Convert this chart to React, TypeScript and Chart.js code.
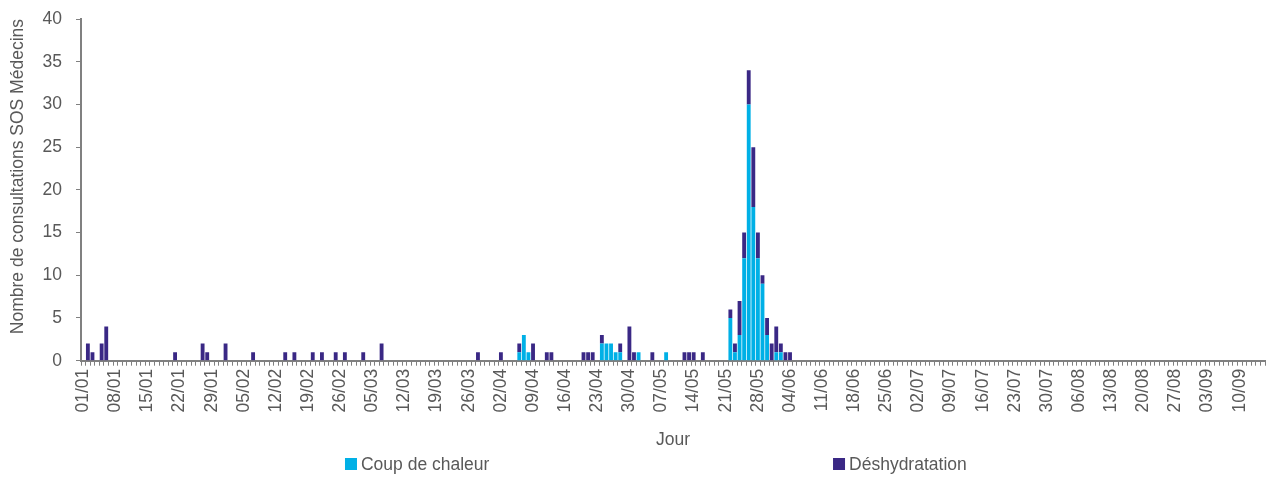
import React, { useEffect, useRef } from 'react';
import { Chart, registerables } from 'chart.js';

Chart.register(...registerables);

// ---- categories: one bar per day, 01/01 to 15/09 ----
const MONTH_CODES = ['01', '02', '03', '04', '05', '06', '07', '08', '09'];
const MONTH_LENGTHS = [31, 28, 31, 30, 31, 30, 31, 31, 15];
const categories: string[] = [];
MONTH_CODES.forEach((m, k) => {
  for (let d = 1; d <= MONTH_LENGTHS[k]; d++) categories.push(String(d).padStart(2, '0') + '/' + m);
});
const LABEL_EVERY = 7; // a label every week: 01/01, 08/01, ... 10/09

// ---- series (one line per month) ----
const coupDeChaleur = [
  0,0,0,0,0,0,0,0,0,0, 0,0,0,0,0,0,0,0,0,0, 0,0,0,0,0,0,0,0,0,0, 0,
  0,0,0,0,0,0,0,0,0,0, 0,0,0,0,0,0,0,0,0,0, 0,0,0,0,0,0,0,0,
  0,0,0,0,0,0,0,0,0,0, 0,0,0,0,0,0,0,0,0,0, 0,0,0,0,0,0,0,0,0,0, 0,
  0,0,0,0,0,1,3,1,0,0, 0,0,0,0,0,0,0,0,0,0, 0,0,0,2,2,2,1,1,0,0,
  0,1,0,0,0,0,0,1,0,0, 0,0,0,0,0,0,0,0,0,0, 0,5,1,3,12,30,18,12,9,3, 0,
  1,1,0,0,0,0,0,0,0,0, 0,0,0,0,0,0,0,0,0,0, 0,0,0,0,0,0,0,0,0,0,
  0,0,0,0,0,0,0,0,0,0, 0,0,0,0,0,0,0,0,0,0, 0,0,0,0,0,0,0,0,0,0, 0,
  0,0,0,0,0,0,0,0,0,0, 0,0,0,0,0,0,0,0,0,0, 0,0,0,0,0,0,0,0,0,0, 0,
  0,0,0,0,0,0,0,0,0,0, 0,0,0,0,0,
];

const deshydratation = [
  0,2,1,0,2,4,0,0,0,0, 0,0,0,0,0,0,0,0,0,0, 1,0,0,0,0,0,2,1,0,0, 0,
  2,0,0,0,0,0,1,0,0,0, 0,0,0,1,0,1,0,0,0,1, 0,1,0,0,1,0,1,0,
  0,0,1,0,0,0,2,0,0,0, 0,0,0,0,0,0,0,0,0,0, 0,0,0,0,0,0,0,1,0,0, 0,
  0,1,0,0,0,1,0,0,2,0, 0,1,1,0,0,0,0,0,0,1, 1,1,0,1,0,0,0,1,0,4,
  1,0,0,0,1,0,0,0,0,0, 0,1,1,1,0,1,0,0,0,0, 0,1,1,4,3,4,7,3,1,2, 2,
  3,1,1,1,0,0,0,0,0,0, 0,0,0,0,0,0,0,0,0,0, 0,0,0,0,0,0,0,0,0,0,
  0,0,0,0,0,0,0,0,0,0, 0,0,0,0,0,0,0,0,0,0, 0,0,0,0,0,0,0,0,0,0, 0,
  0,0,0,0,0,0,0,0,0,0, 0,0,0,0,0,0,0,0,0,0, 0,0,0,0,0,0,0,0,0,0, 0,
  0,0,0,0,0,0,0,0,0,0, 0,0,0,0,0,
];

const SERIES_LABELS = ['Coup de chaleur', 'Déshydratation'];
const SERIES_COLORS = ['#00B0E6', '#3A2885'];

const Y_MIN = 0;
const Y_MAX = 40;
const Y_STEP = 5;

const FONT = "'Liberation Sans', Arial, sans-serif";
const FS = 17.5;
const TEXT = '#595959';
const AXIS = '#808080';

const spreadLegend = {
  id: 'spreadLegend',
  afterDraw(chart: any) {
    const { ctx, width, height } = chart;
    const xs = [width * 0.2725, width * 0.658];
    ctx.save();
    ctx.font = `${FS}px ${FONT}`;
    ctx.textBaseline = 'middle';
    ctx.textAlign = 'left';
    chart.data.datasets.forEach((ds: any, i: number) => {
      const x = xs[i];
      const y = height - 16;
      ctx.fillStyle = ds.backgroundColor;
      ctx.fillRect(x, y - 6, 12, 12);
      ctx.fillStyle = TEXT;
      ctx.fillText(ds.label, x + 16, y + 1);
    });
    ctx.restore();
  },
};

export default function App() {
  const ref = useRef<HTMLCanvasElement | null>(null);

  useEffect(() => {
    if (!ref.current) return;
    const chart = new Chart(ref.current, {
      type: 'bar',
      data: {
        labels: categories,
        datasets: [
          {
            label: SERIES_LABELS[0],
            data: coupDeChaleur,
            backgroundColor: SERIES_COLORS[0],
            categoryPercentage: 1,
            barPercentage: 0.84,
          },
          {
            label: SERIES_LABELS[1],
            data: deshydratation,
            backgroundColor: SERIES_COLORS[1],
            categoryPercentage: 1,
            barPercentage: 0.84,
          },
        ],
      },
      options: {
        animation: false,
        responsive: true,
        maintainAspectRatio: false,
        layout: { padding: { top: 19, right: 1, bottom: 27, left: 0 } },
        plugins: {
          legend: { display: false },
          tooltip: { enabled: false },
        },
        scales: {
          x: {
            stacked: true,
            afterFit: (s: any) => {
              s.paddingLeft = 0;
              s.paddingRight = 0;
            },
            grid: {
              display: true,
              drawOnChartArea: false,
              drawTicks: true,
              tickLength: 5,
              color: AXIS,
              offset: true,
            },
            border: { display: true, color: AXIS, width: 2 },
            ticks: {
              autoSkip: false,
              maxRotation: 90,
              minRotation: 90,
              padding: 3,
              color: TEXT,
              font: { family: FONT, size: FS },
              callback: (_v: any, i: number) => (i % LABEL_EVERY === 0 ? categories[i] : ''),
            },
            title: {
              display: true,
              text: 'Jour',
              color: TEXT,
              font: { family: FONT, size: FS, lineHeight: 1 },
              padding: { top: 16, bottom: 4 },
            },
          },
          y: {
            stacked: true,
            min: Y_MIN,
            max: Y_MAX,
            afterFit: (s: any) => {
              s.width = 81;
              s.paddingTop = 0;
              s.paddingBottom = 0;
            },
            grid: {
              display: true,
              drawOnChartArea: false,
              drawTicks: true,
              tickLength: 5,
              color: AXIS,
            },
            border: { display: true, color: AXIS, width: 2 },
            ticks: {
              stepSize: Y_STEP,
              padding: 14,
              color: TEXT,
              font: { family: FONT, size: FS },
            },
            title: {
              display: true,
              text: 'Nombre de consultations SOS Médecins',
              align: 'end',
              color: TEXT,
              font: { family: FONT, size: FS, lineHeight: 1 },
              padding: { top: 9, bottom: 16 },
            },
          },
        },
      },
      plugins: [spreadLegend],
    });
    return () => chart.destroy();
  }, []);

  return (
    <div style={{ position: 'absolute', left: 0, top: 0, width: 1266, height: 480 }}>
      <canvas ref={ref} />
    </div>
  );
}
